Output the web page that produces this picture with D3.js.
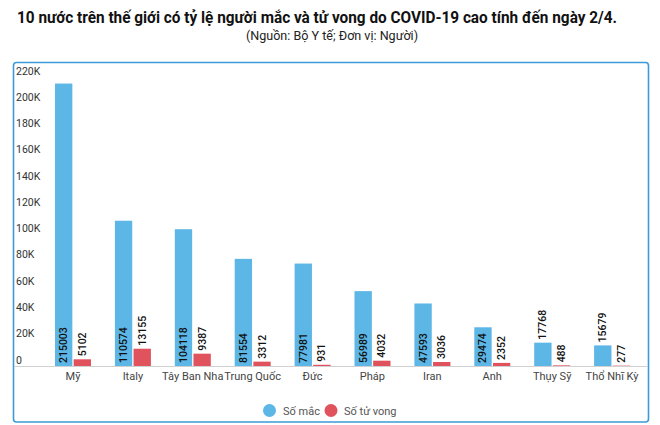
<!DOCTYPE html>
<html>
<head>
<meta charset="utf-8">
<script src="https://cdn.jsdelivr.net/npm/d3@7"></script>
<style>
  html, body { margin: 0; padding: 0; background: #fff; }
  svg { display: block; font-family: Roboto, "Noto Sans", sans-serif; }
</style>
</head>
<body>
<script>
const countries = ["Mỹ", "Italy", "Tây Ban Nha", "Trung Quốc", "Đức", "Pháp", "Iran", "Anh", "Thụy Sỹ", "Thổ Nhĩ Kỳ"];
const cases = [215003, 110574, 104118, 81554, 77981, 56989, 47593, 29474, 17768, 15679];
const deaths = [5102, 13155, 9387, 3312, 931, 4032, 3036, 2352, 488, 277];
const seriesNames = ["Số mắc", "Số tử vong"];
const yTicks = [0, 20000, 40000, 60000, 80000, 100000, 120000, 140000, 160000, 180000, 200000, 220000];
const titleText = "10 nước trên thế giới có tỷ lệ người mắc và tử vong do COVID-19 cao tính đến ngày 2/4.";
const subtitleText = "(Nguồn: Bộ Y tế; Đơn vị: Người)";

const W = 660, H = 425;
const colors = ["#5cb6e6", "#e0525c"];

const svg = d3.select("body").append("svg").attr("width", W).attr("height", H);

// Title
svg.append("text").attr("x", 17).attr("y", 23)
  .attr("font-size", 16).attr("font-weight", 700).attr("fill", "#111")
  .attr("textLength", 600).attr("lengthAdjust", "spacingAndGlyphs")
  .text(titleText);
svg.append("text").attr("x", 332).attr("y", 40).attr("text-anchor", "middle")
  .attr("font-size", 12).attr("fill", "#222")
  .attr("textLength", 172).attr("lengthAdjust", "spacingAndGlyphs")
  .text(subtitleText);

// Border box
svg.append("rect").attr("x", 13.5).attr("y", 62.5).attr("width", 635).attr("height", 359.5)
  .attr("rx", 3).attr("fill", "none").attr("stroke", "#3c9ad8").attr("stroke-width", 1.6);

const y = d3.scaleLinear().domain([0, 220000]).range([366, 77]);
const x0 = d3.scaleBand().domain(countries).range([43, 642]).padding(0);
const keys = ["cases", "deaths"];
const x1 = d3.scaleBand().domain(keys).range([12, 48]).paddingInner(0.07);

// Y axis labels
const yAxis = d3.axisLeft(y).tickValues(yTicks).tickSize(0)
  .tickFormat(d => d === 0 ? "0" : (d / 1000) + "K");
const gy = svg.append("g").attr("transform", "translate(16,0)").call(yAxis);
gy.select(".domain").remove();
gy.selectAll("text").attr("text-anchor", "start").attr("x", 0).attr("dy", "-3px")
  .attr("font-size", 10.5).attr("fill", "#333").attr("font-family", "Roboto");

// Baseline
svg.append("line").attr("x1", 14).attr("x2", 648).attr("y1", y(0) + 0.5).attr("y2", y(0) + 0.5)
  .attr("stroke", "#d0d0d0").attr("stroke-width", 1);

// X axis labels
const xAxis = d3.axisBottom(x0).tickSize(0);
const gx = svg.append("g").attr("transform", `translate(0,${y(0)})`).call(xAxis);
gx.select(".domain").remove();
gx.selectAll("text").attr("font-size", 11).attr("fill", "#444").attr("dy", "0").attr("y", 14)
  .attr("font-family", "Roboto");

// Bars
const rows = countries.map((c, i) => ({ c, vals: [cases[i], deaths[i]] }));
const groups = svg.selectAll("g.grp").data(rows).enter().append("g").attr("class", "grp")
  .attr("transform", d => `translate(${x0(d.c)},0)`);

groups.selectAll("rect").data(d => d.vals.map((v, k) => ({ v, k }))).enter().append("rect")
  .attr("x", d => x1(keys[d.k])).attr("width", x1.bandwidth())
  .attr("y", d => y(d.v)).attr("height", d => y(0) - y(d.v))
  .attr("fill", d => colors[d.k]);

groups.selectAll("text.val").data(d => d.vals.map((v, k) => ({ v, k }))).enter().append("text")
  .attr("class", "val")
  .attr("font-size", 10.5).attr("font-weight", 500).attr("fill", "#111")
  .attr("dominant-baseline", "central")
  .text(d => d.v)
  .each(function (d) {
    const t = d3.select(this);
    const len = this.getComputedTextLength();
    const cx = x1(keys[d.k]) + x1.bandwidth() / 2;
    const h = y(0) - y(d.v);
    let py;
    if (d.k === 0 && h >= len + 6) {
      py = y(0) - 3; // inside at bottom
    } else {
      py = y(d.v) - 3; // above bar
    }
    t.attr("text-anchor", "start")
      .attr("transform", `translate(${cx},${py}) rotate(-90)`);
  });

// Legend
const legend = svg.append("g");
const legItems = [{ cx: 269.5, tx: 283 }, { cx: 331, tx: 344 }];
seriesNames.forEach((n, i) => {
  legend.append("circle").attr("cx", legItems[i].cx).attr("cy", 410.5).attr("r", 6.5).attr("fill", colors[i]);
  legend.append("text").attr("x", legItems[i].tx).attr("y", 414.5).attr("font-size", 11)
    .attr("fill", "#555").text(n);
});
</script>
</body>
</html>
